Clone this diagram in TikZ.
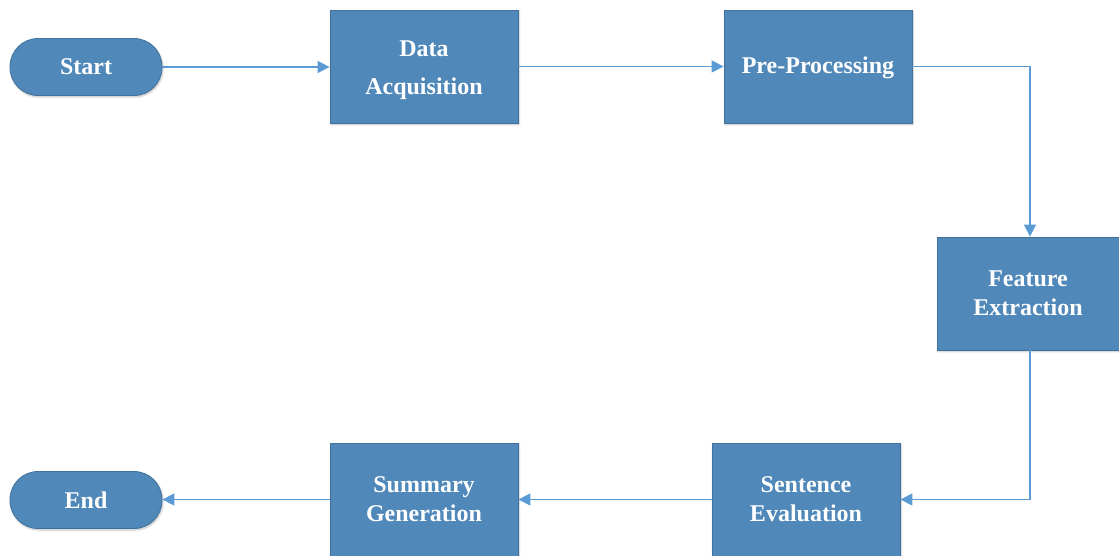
\documentclass[tikz,border=0pt]{standalone}
\usepackage{fontspec}
\setmainfont{Liberation Serif}
\usetikzlibrary{arrows.meta,shadows.blur}
\definecolor{boxfill}{RGB}{79,136,185}
\definecolor{boxline}{RGB}{65,113,156}
\definecolor{arrowc}{RGB}{91,155,213}
\tikzset{
  base/.style={fill=boxfill,draw=boxline,line width=0.8pt,text=white,inner sep=0pt,align=center,
    font=\fontsize{24}{29}\selectfont\bfseries,
    blur shadow={shadow xshift=1pt,shadow yshift=-1.5pt,shadow blur steps=5,shadow opacity=25}},
  procbox/.style={base,rectangle,minimum width=188pt,minimum height=113pt},
  termbox/.style={base,rectangle,rounded corners=28pt,minimum width=152pt,minimum height=57pt},
  flow/.style={draw=arrowc,line width=1.4pt,-{Triangle[length=12pt,width=12pt]}},
}
\begin{document}
\begin{tikzpicture}[x=1pt,y=-1pt]
\useasboundingbox (0,0) rectangle (1119,556);
\node[termbox] (start) at (86,67) {Start};
\node[procbox] (da) at (424,66.5) {\raisebox{0pt}[11pt][30pt]{\begin{tabular}[t]{@{}c@{}}Data\\[9pt]Acquisition\end{tabular}}};
\node[procbox] (pp) at (818,66.5) {\raisebox{0pt}[20pt][5pt]{Pre-Processing}};
\node[procbox,minimum width=182pt] (fe) at (1028,293.5) {Feature\\Extraction};
\node[procbox] (se) at (806,499.5) {Sentence\\Evaluation};
\node[procbox] (sg) at (424,499.5) {Summary\\Generation};
\node[termbox] (end) at (86,500) {End};
\coordinate (c1) at (1030,66.5);
\coordinate (c2) at (1030,499.5);
\draw[flow] (start.east) -- (da.west |- start.east);
\draw[flow] (da.east |- pp.west) -- (pp.west);
\draw[flow] (pp.east) -- (c1) -- (c1 |- fe.north);
\draw[flow] (c1 |- fe.south) -- (c2) -- (se.east);
\draw[flow] (se.west) -- (sg.east);
\draw[flow] (sg.west) -- (end.east |- sg.west);
\end{tikzpicture}
\end{document}
